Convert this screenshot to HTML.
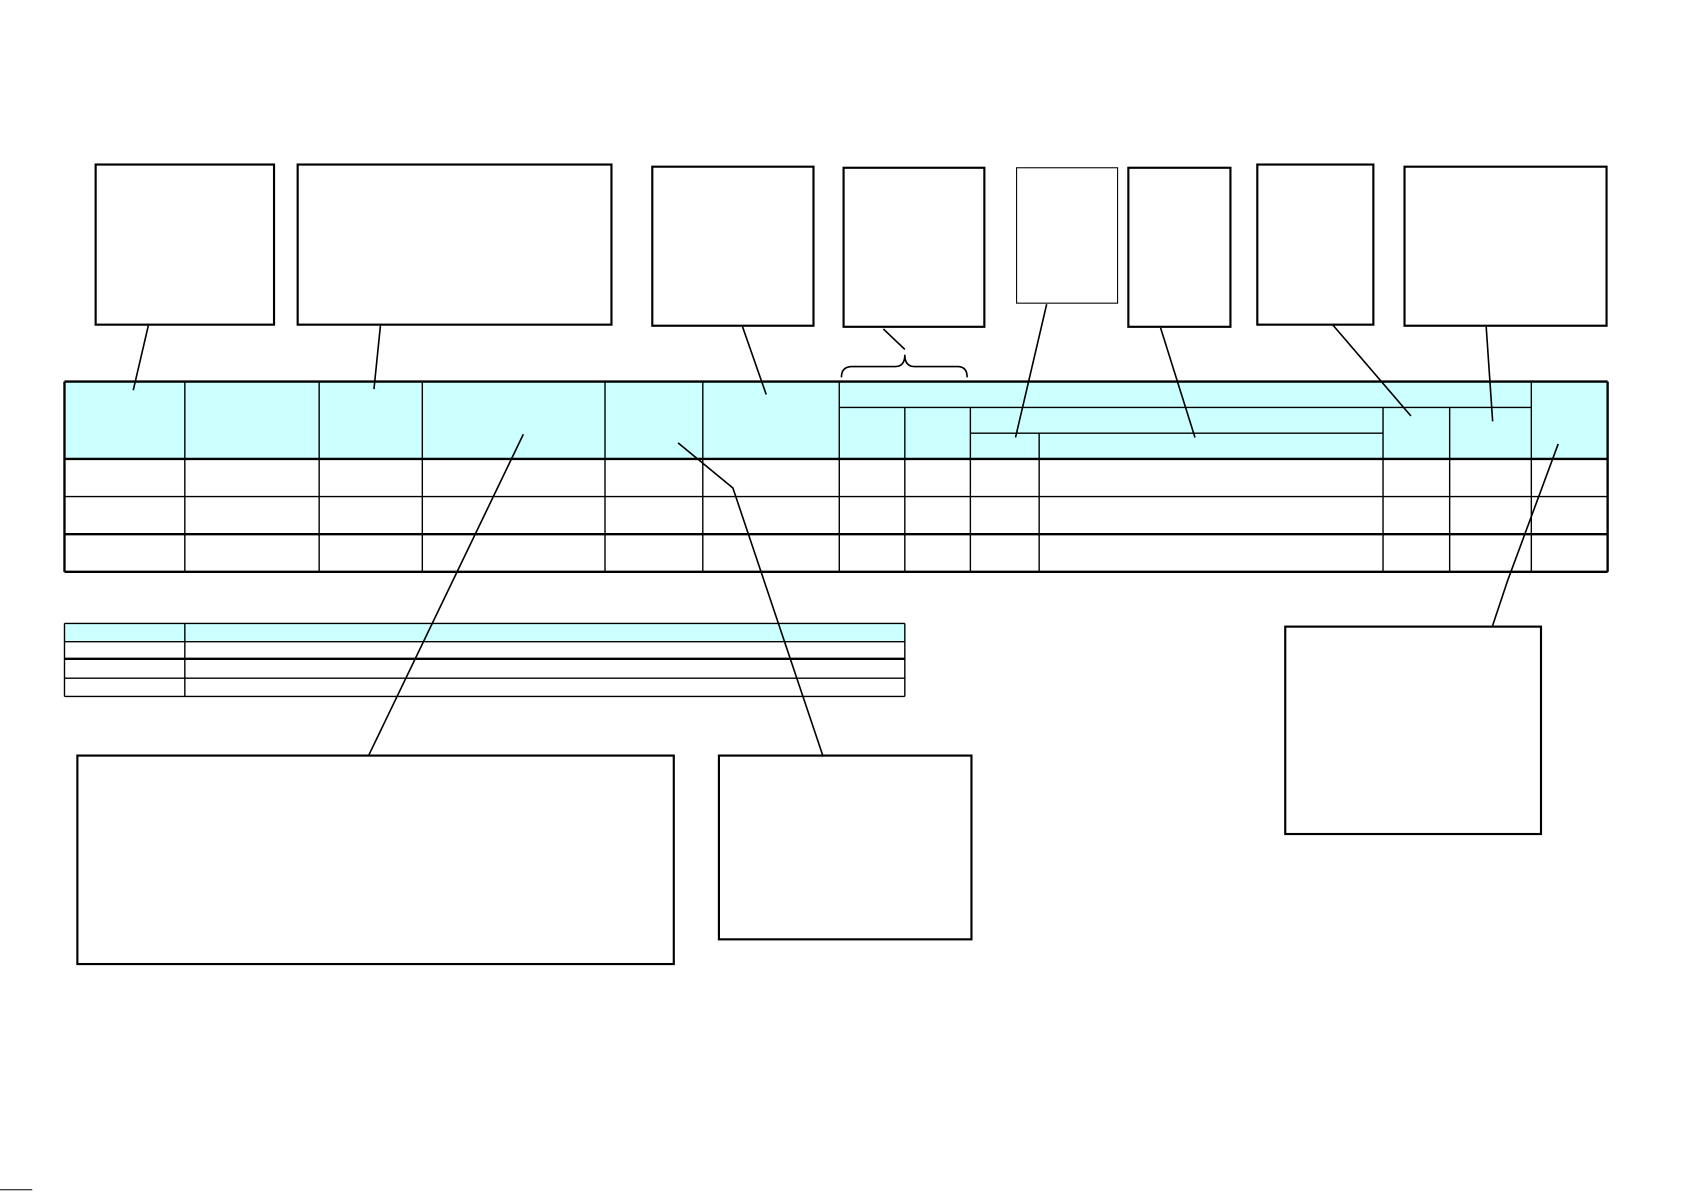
<!DOCTYPE html>
<html><head><meta charset="utf-8"><style>html,body{margin:0;padding:0;background:#fff}svg{display:block}</style></head>
<body>
<svg width="1685" height="1192" viewBox="0 0 1568 1109" xmlns="http://www.w3.org/2000/svg">
<g fill="#fff" stroke="#000" stroke-width="2">
<rect x="89" y="153" width="166" height="149"/>
<rect x="277" y="153" width="292" height="149"/>
<rect x="607" y="155" width="150" height="148"/>
<rect x="785" y="156" width="131" height="148"/>
<rect x="946" y="156" width="94" height="126" stroke-width="1"/>
<rect x="1050" y="156" width="95" height="148"/>
<rect x="1170" y="153" width="108" height="149"/>
<rect x="1307" y="155" width="188" height="148"/>
<rect x="1196" y="583" width="238" height="193"/>
<rect x="72" y="703" width="555" height="194"/>
<rect x="669" y="703" width="235" height="171"/>
</g>
<rect x="60" y="355" width="1436" height="72" fill="#ccffff"/>
<rect x="60" y="580" width="782" height="17" fill="#ccffff"/>
<g stroke="#000" fill="none">
<g stroke-width="1.3">
<line x1="172" y1="355" x2="172" y2="532"/><line x1="297" y1="355" x2="297" y2="532"/>
<line x1="393" y1="355" x2="393" y2="532"/><line x1="563" y1="355" x2="563" y2="532"/>
<line x1="654" y1="355" x2="654" y2="532"/><line x1="781" y1="355" x2="781" y2="532"/>
<line x1="842" y1="379" x2="842" y2="532"/><line x1="903" y1="379" x2="903" y2="532"/>
<line x1="967" y1="403" x2="967" y2="532"/><line x1="1287" y1="379" x2="1287" y2="532"/>
<line x1="1349" y1="379" x2="1349" y2="532"/><line x1="1425" y1="355" x2="1425" y2="532"/>
<line x1="781" y1="379" x2="1425" y2="379"/><line x1="903" y1="403" x2="1287" y2="403"/>
<line x1="60" y1="462" x2="1496" y2="462"/>
<line x1="172" y1="580" x2="172" y2="648"/>
<line x1="60" y1="580" x2="842" y2="580"/><line x1="60" y1="597" x2="842" y2="597"/>
<line x1="60" y1="631" x2="842" y2="631"/><line x1="60" y1="648" x2="842" y2="648"/>
<line x1="60" y1="580" x2="60" y2="648"/><line x1="842" y1="580" x2="842" y2="648"/>
</g>
<g stroke-width="2.2">
<line x1="60" y1="355" x2="1496" y2="355"/><line x1="60" y1="427" x2="1496" y2="427"/>
<line x1="60" y1="497" x2="1496" y2="497"/><line x1="60" y1="532" x2="1496" y2="532"/>
<line x1="60" y1="355" x2="60" y2="532"/><line x1="1496" y1="355" x2="1496" y2="532"/>
<line x1="60" y1="613" x2="842" y2="613"/>
</g>
<g stroke-width="1.5">
<line x1="138" y1="303" x2="124" y2="363"/>
<line x1="354" y1="303" x2="348" y2="362"/>
<line x1="691" y1="304" x2="713" y2="367"/>
<line x1="822" y1="306" x2="842" y2="325"/>
<path d="M783 351 Q783 341 793 341 L833 341 Q842 341 842 330 Q842 341 851 341 L891 341 Q900 341 900 351"/>
<line x1="974" y1="283" x2="945" y2="407"/>
<line x1="1080" y1="305" x2="1112" y2="407"/>
<line x1="1240" y1="302" x2="1313" y2="387"/>
<line x1="1383" y1="304" x2="1389" y2="392"/>
<polyline points="1450,413 1403,540 1389,582"/>
<line x1="487" y1="404" x2="343" y2="703"/>
<polyline points="631,412 682,454 766,704"/>
<line x1="0" y1="1107" x2="30" y2="1107" stroke-width="1"/>
</g>
</g>
</svg>
</body></html>
